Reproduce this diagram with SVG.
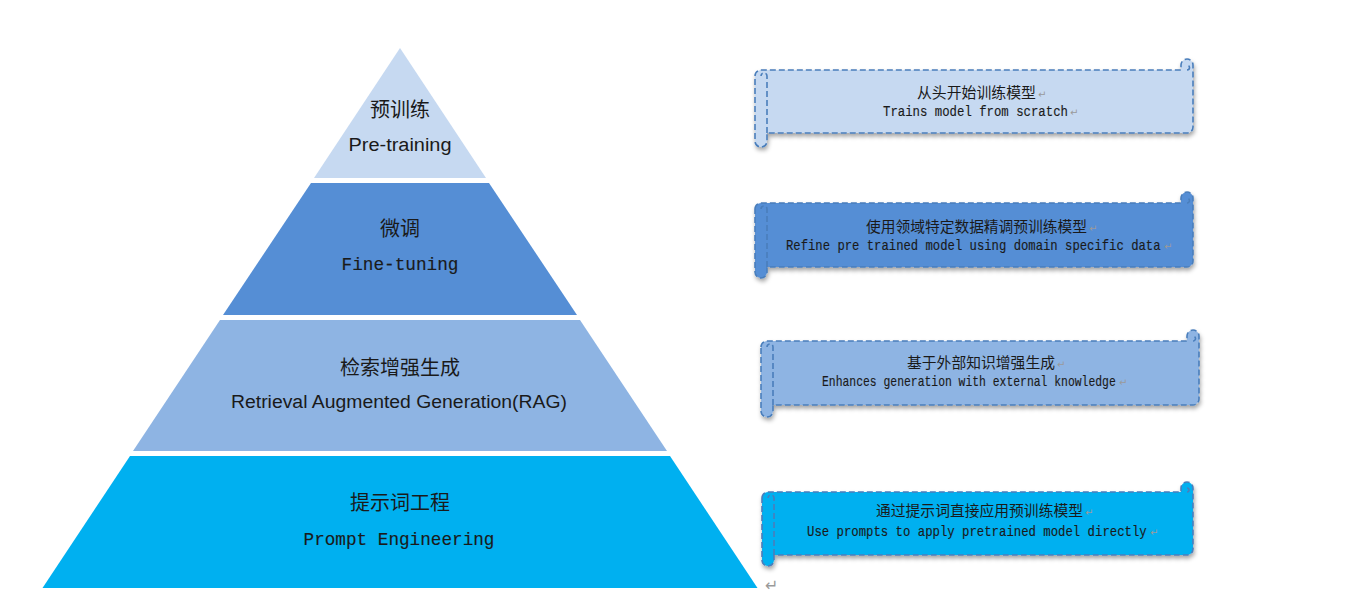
<svg xmlns="http://www.w3.org/2000/svg" width="1356" height="601" viewBox="0 0 1356 601">
<style>
.cjk{font-family:"Noto Sans CJK SC","Noto Sans",sans-serif;fill:#1a1a1a}
.lat{font-family:"Liberation Sans",Arial,sans-serif;fill:#1a1a1a}
.mono{font-family:"Liberation Mono","Courier New",monospace;fill:#1a1a1a;stroke:#1a1a1a;stroke-width:0.15}
.ret{font-family:"DejaVu Sans",sans-serif;fill:#9a9a9a;font-size:10px}
.scroll{stroke:#4a7ebb;stroke-width:1.6;stroke-dasharray:6 3;stroke-linejoin:round}
.det{fill:none;stroke:#4a7ebb;stroke-width:1.6;stroke-dasharray:6 3}
</style>
<defs>
<filter id="sh" x="-5%" y="-20%" width="110%" height="150%">
<feDropShadow dx="1" dy="3" stdDeviation="2" flood-color="#000" flood-opacity="0.35"/>
</filter>
</defs>
<rect width="1356" height="601" fill="#fff"/>

<g id="layer-pretraining">
<polygon points="400,48 486,178 314,178" fill="#c6d9f1"/>
<text class="cjk" x="400" y="117" font-size="20" text-anchor="middle">预训练</text>
<text class="lat" x="400" y="151" font-size="18" text-anchor="middle" textLength="103" lengthAdjust="spacingAndGlyphs">Pre-training</text>
</g>
<g id="layer-finetuning">
<polygon points="311,183 489,183 577,315 223,315" fill="#558ed5"/>
<text class="cjk" x="400" y="236" font-size="20" text-anchor="middle">微调</text>
<text class="mono" transform="translate(400,270) scale(0.933,1)" font-size="19" text-anchor="middle">Fine-tuning</text>
</g>
<g id="layer-rag">
<polygon points="220,320 580,320 667,451 133,451" fill="#8eb4e3"/>
<text class="cjk" x="400" y="375" font-size="20" text-anchor="middle">检索增强生成</text>
<text class="lat" x="399" y="408" font-size="18" text-anchor="middle" textLength="336" lengthAdjust="spacingAndGlyphs">Retrieval Augmented Generation(RAG)</text>
</g>
<g id="layer-prompt">
<polygon points="130,456 670,456 757.5,588 42.5,588" fill="#00b0f0"/>
<text class="cjk" x="400" y="510" font-size="20" text-anchor="middle">提示词工程</text>
<text class="mono" transform="translate(399,545) scale(0.931,1)" font-size="19" text-anchor="middle">Prompt Engineering</text>
</g>
<text class="ret" x="765" y="591" style="font-size:16px">↵</text>

<g id="note-pretraining">
<path class="scroll" filter="url(#sh)" fill="#c6d9f1" d="M755,76 A6,6 0 0 1 761,70 H1181 V65 A6,6 0 0 1 1193,65 V127 A6,6 0 0 1 1187,133 H767 V141 A6,6 0 0 1 755,141 Z"/>
<path class="det" d="M767,133 V76 A3,3 0 0 0 761,76 M1187,70 A2.5,2.5 0 0 0 1187,65"/>
<text class="cjk" x="917" y="98" font-size="15" textLength="119" lengthAdjust="spacingAndGlyphs">从头开始训练模型</text>
<text class="ret" x="1038" y="98">↵</text>
<text class="mono" transform="translate(883,116) scale(0.881,1)" font-size="14">Trains model from scratch</text>
<text class="ret" x="1070" y="116">↵</text>
</g>

<g id="note-finetuning">
<path class="scroll" filter="url(#sh)" fill="#558ed5" d="M755,209 A6,6 0 0 1 761,203 H1181 V198 A6,6 0 0 1 1193,198 V261 A6,6 0 0 1 1187,267 H767 V272 A6,6 0 0 1 755,272 Z"/>
<path class="det" d="M767,267 V209 A3,3 0 0 0 761,209 M1187,203 A2.5,2.5 0 0 0 1187,198"/>
<text class="cjk" x="866" y="232" font-size="15" textLength="221" lengthAdjust="spacingAndGlyphs">使用领域特定数据精调预训练模型</text>
<text class="ret" x="1089" y="232">↵</text>
<text class="mono" transform="translate(786,250) scale(0.875,1)" font-size="14">Refine pre trained model using domain specific data</text>
<text class="ret" x="1164" y="250">↵</text>
</g>

<g id="note-rag">
<path class="scroll" filter="url(#sh)" fill="#8eb4e3" d="M761,347 A6,6 0 0 1 767,341 H1187 V336 A6,6 0 0 1 1199,336 V399 A6,6 0 0 1 1193,405 H773 V411 A6,6 0 0 1 761,411 Z"/>
<path class="det" d="M773,405 V347 A3,3 0 0 0 767,347 M1193,341 A2.5,2.5 0 0 0 1193,336"/>
<text class="cjk" x="907" y="368" font-size="15" textLength="148" lengthAdjust="spacingAndGlyphs">基于外部知识增强生成</text>
<text class="ret" x="1057" y="368">↵</text>
<text class="mono" transform="translate(822,386) scale(0.814,1)" font-size="14">Enhances generation with external knowledge</text>
<text class="ret" x="1119" y="386">↵</text>
</g>

<g id="note-prompt">
<path class="scroll" filter="url(#sh)" fill="#00b0f0" d="M762,498 A6,6 0 0 1 768,492 H1181 V488 A6,6 0 0 1 1193,488 V549 A6,6 0 0 1 1187,555 H774 V560 A6,6 0 0 1 762,560 Z"/>
<path class="det" d="M774,555 V498 A3,3 0 0 0 768,498 M1187,492 A2,2 0 0 0 1187,488"/>
<text class="cjk" x="876" y="516" font-size="15" textLength="207" lengthAdjust="spacingAndGlyphs">通过提示词直接应用预训练模型</text>
<text class="ret" x="1085" y="516">↵</text>
<text class="mono" transform="translate(807,536) scale(0.88,1)" font-size="14">Use prompts to apply pretrained model directly</text>
<text class="ret" x="1150" y="536">↵</text>
</g>
</svg>
